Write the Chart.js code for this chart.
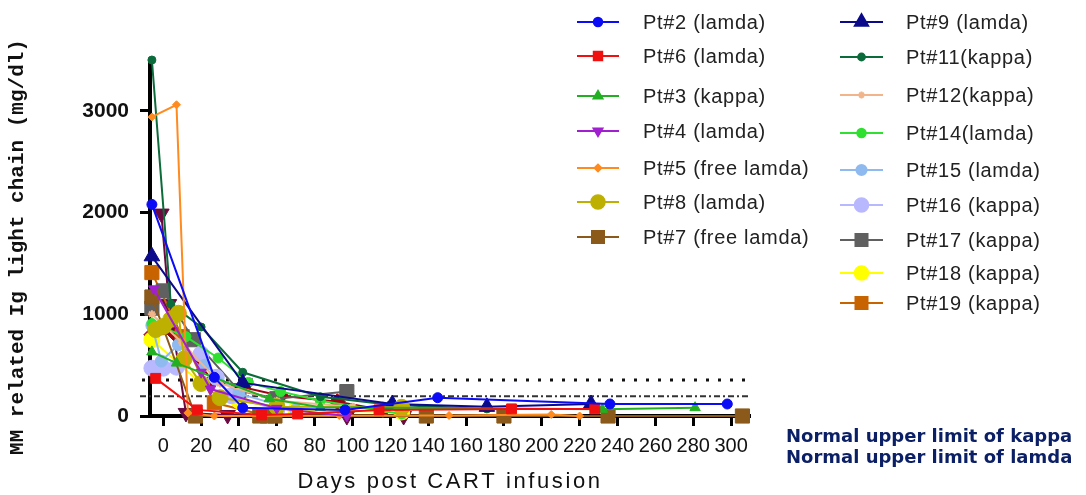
<!DOCTYPE html>
<html>
<head>
<meta charset="utf-8">
<script src="https://cdn.jsdelivr.net/npm/chart.js@4/dist/chart.umd.min.js"></script>
<style>
    html, body { margin: 0; padding: 0; background: #fff; }
    #wrap { width: 1086px; height: 495px; }
</style>
</head>
<body>
<div id="wrap"><canvas id="chart" width="1086" height="495"></canvas></div>
<script>
// values (mg/dl vs days post CART infusion)
const SERIES_NAMES = ['Pt#2 (lamda)', 'Pt#6 (lamda)', 'Pt#3 (kappa)', 'Pt#4 (lamda)', 'Pt#5 (free lamda)',
    'Pt#8 (lamda)', 'Pt#7 (free lamda)', 'Pt#9 (lamda)', 'Pt#11(kappa)', 'Pt#12(kappa)', 'Pt#14(lamda)',
    'Pt#15 (lamda)', 'Pt#16 (kappa)', 'Pt#17 (kappa)', 'Pt#18 (kappa)', 'Pt#19 (kappa)']

const PT2_DAYS = [-6, 27, 42, 96, 145, 236, 298]
const PT2_VALUES = [2080, 380, 80, 60, 180, 118, 118]
const PT6_DAYS = [-4, 18, 52, 71, 114, 184, 228]
const PT6_VALUES = [370, 60, 10, 20, 60, 70, 70]
const PT3_DAYS = [-6, 7, 56, 83, 232, 281]
const PT3_VALUES = [630, 520, 170, 85, 66, 82]
const PT4_DAYS = [-5, 20, 25, 60, 97]
const PT4_VALUES = [1250, 430, 265, 75, 0]
const PT5_DAYS = [-6, 7, 13, 27, 93, 151, 205, 220]
const PT5_VALUES = [2940, 3060, 30, 0, 5, 5, 15, 0]
const PT8_DAYS = [-4, 0, 4, 8, 11, 20, 30, 60, 126]
const PT8_VALUES = [850, 880, 950, 1010, 560, 320, 180, 90, 85]
const PT7_DAYS = [-6, 17, 51, 59, 139, 180, 235, 306]
const PT7_VALUES = [1170, 0, 0, 0, 0, 0, 0, 0]
const PT9_DAYS = [-6, 42, 121, 171, 226]
const PT9_VALUES = [1570, 325, 118, 90, 118]
const PT11_DAYS = [-6, 4, 20, 42, 83, 120, 171]
const PT11_VALUES = [3500, 1100, 875, 430, 190, 110, 70]
const PT12_DAYS = [-6, 10, 30, 60, 100]
const PT12_VALUES = [1000, 720, 320, 150, 90]
const PT14_DAYS = [-6, 12, 29, 45, 62, 83, 126]
const PT14_VALUES = [910, 780, 570, 330, 240, 150, 20]
const PT15_DAYS = [-6, -1, 8, 22, 40, 70]
const PT15_VALUES = [890, 540, 700, 500, 220, 60]
const PT16_DAYS = [-6, 0, 7, 20, 28, 36, 60]
const PT16_VALUES = [470, 470, 480, 610, 380, 200, 60]
const PT17_DAYS = [-6, 0, 16, 40, 60, 97]
const PT17_VALUES = [1060, 1230, 750, 250, 170, 240]
const PT18_DAYS = [-6, 20, 40, 70, 126]
const PT18_VALUES = [750, 320, 150, 60, 40]
const PT19_DAYS = [-6, 10, 27, 55]
const PT19_VALUES = [1410, 780, 130, 0]

// two traces drawn in the figure but missing from its legend
const EXTRA_TRI_DAYS = [-1, 3, 12, 34, 97, 127]
const EXTRA_TRI_VALUES = [1990, 1100, 30, 10, 0, 0]
const EXTRA_DIAMOND_DAYS = [-6, 6, 26, 62, 92, 116]
const EXTRA_DIAMOND_VALUES = [800, 810, 350, 200, 140, 60]

const KAPPA_LIMIT = 355
const LAMDA_LIMIT = 195

const Y_TICKS = [0, 1000, 2000, 3000]

const X_TITLE = 'Days post CART infusion'
const Y_TITLE = 'MM related Ig light chain (mg/dl)'

const SERIES_DAYS = [PT2_DAYS, PT6_DAYS, PT3_DAYS, PT4_DAYS, PT5_DAYS, PT8_DAYS, PT7_DAYS, PT9_DAYS,
    PT11_DAYS, PT12_DAYS, PT14_DAYS, PT15_DAYS, PT16_DAYS, PT17_DAYS, PT18_DAYS, PT19_DAYS]
const SERIES_VALUES = [PT2_VALUES, PT6_VALUES, PT3_VALUES, PT4_VALUES, PT5_VALUES, PT8_VALUES, PT7_VALUES, PT9_VALUES,
    PT11_VALUES, PT12_VALUES, PT14_VALUES, PT15_VALUES, PT16_VALUES, PT17_VALUES, PT18_VALUES, PT19_VALUES]

// look of each trace
const SERIES_STYLE = [
    { color: '#0b0bf5', shape: 'circle', r: 5 },
    { color: '#f01010', shape: 'rect', r: 7 },
    { color: '#22b022', shape: 'triangle', r: 6 },
    { color: '#a020d0', shape: 'triangle', r: 6, rot: 180 },
    { color: '#ff8a1e', shape: 'rectRot', r: 4 },
    { color: '#bdb000', shape: 'circle', r: 8 },
    { color: '#8b5a1a', shape: 'rect', r: 10 },
    { color: '#0a0a8a', shape: 'triangle', r: 9 },
    { color: '#0b6b3a', shape: 'circle', r: 4 },
    { color: '#f2b48a', shape: 'star', r: 4 },
    { color: '#30e030', shape: 'circle', r: 5 },
    { color: '#8fbaf0', shape: 'circle', r: 6 },
    { color: '#b8b8ff', shape: 'circle', r: 8 },
    { color: '#606060', shape: 'rect', r: 10 },
    { color: '#ffff00', shape: 'circle', r: 8 },
    { color: '#c86400', shape: 'rect', r: 10 }
]

// legend slots: [column, row y]
const LEGEND_COLS = [{ x1: 577, x2: 619, text: 643 }, { x1: 840, x2: 883, text: 906 }]
const LEGEND_SLOTS = [[0, 22], [0, 56], [0, 96], [0, 131], [0, 168], [0, 202], [0, 237],
    [1, 22], [1, 57], [1, 95], [1, 133], [1, 170], [1, 205], [1, 240], [1, 273], [1, 303]]

function toPoints(days, values) {
    return days.map((d, i) => ({ x: d, y: values[i] }))
}

function makeDataset(label, days, values, style) {
    return {
        label: label,
        data: toPoints(days, values),
        borderColor: style.color,
        backgroundColor: style.color,
        pointStyle: style.shape,
        pointRadius: style.r,
        pointRotation: style.rot || 0,
        pointBorderWidth: style.shape === 'star' ? 2 : 1,
        borderWidth: 2,
        clip: false
    }
}

const datasets = SERIES_NAMES.map((name, i) => makeDataset(name, SERIES_DAYS[i], SERIES_VALUES[i], SERIES_STYLE[i]))
datasets.push(makeDataset('', EXTRA_TRI_DAYS, EXTRA_TRI_VALUES, { color: '#6a0a40', shape: 'triangle', r: 9, rot: 180 }))
datasets.push(makeDataset('', EXTRA_DIAMOND_DAYS, EXTRA_DIAMOND_VALUES, { color: '#a00010', shape: 'rectRot', r: 8 }))

const limitLines = {
    id: 'limitLines',
    beforeDatasetsDraw(chart) {
        const { ctx, chartArea, scales } = chart
        const y = scales.y
        ctx.save()
        // kappa: dotted
        ctx.strokeStyle = '#111'
        ctx.lineWidth = 3
        ctx.setLineDash([3, 9])
        let py = y.getPixelForValue(KAPPA_LIMIT)
        ctx.beginPath()
        ctx.moveTo(chartArea.left - 8, py)
        ctx.lineTo(chartArea.right, py)
        ctx.stroke()
        // lamda: dash-dot
        ctx.strokeStyle = '#333'
        ctx.lineWidth = 2
        ctx.setLineDash([6, 3, 2, 3])
        py = y.getPixelForValue(LAMDA_LIMIT)
        ctx.beginPath()
        ctx.moveTo(chartArea.left - 10, py)
        ctx.lineTo(chartArea.right, py)
        ctx.stroke()
        ctx.restore()
    }
}

const sideLegend = {
    id: 'sideLegend',
    afterDraw(chart) {
        const { ctx, chartArea } = chart
        ctx.save()
        SERIES_NAMES.forEach((name, i) => {
            const [col, y] = LEGEND_SLOTS[i]
            const c = LEGEND_COLS[col]
            const st = SERIES_STYLE[i]
            ctx.strokeStyle = st.color
            ctx.fillStyle = st.color
            ctx.lineWidth = 2
            ctx.setLineDash([])
            ctx.beginPath()
            ctx.moveTo(c.x1, y)
            ctx.lineTo(c.x2, y)
            ctx.stroke()
            const opts = { pointStyle: st.shape, radius: st.r * 0.85, rotation: st.rot || 0, borderWidth: st.shape === 'star' ? 2 : 1 }
            if (Chart.helpers && Chart.helpers.drawPoint) {
                Chart.helpers.drawPoint(ctx, opts, (c.x1 + c.x2) / 2, y)
            } else {
                ctx.beginPath()
                ctx.arc((c.x1 + c.x2) / 2, y, opts.radius, 0, Math.PI * 2)
                ctx.fill()
            }
            ctx.fillStyle = '#222'
            ctx.font = '20px "Liberation Sans", Arial, sans-serif'
            ctx.letterSpacing = '0.7px'
            ctx.textAlign = 'left'
            ctx.textBaseline = 'middle'
            ctx.fillText(name, c.text, y + 1)
            ctx.letterSpacing = '0px'
        })

        // notes for the two reference lines
        ctx.fillStyle = '#0b1f66'
        ctx.font = 'bold 18px "DejaVu Sans", sans-serif'
        ctx.textAlign = 'left'
        ctx.textBaseline = 'middle'
        ctx.fillText('Normal upper limit of kappa', 786, 437)
        ctx.fillText('Normal upper limit of lamda', 786, 458)

        // axis titles
        ctx.fillStyle = '#111'
        ctx.font = '22px "Liberation Sans", Arial, sans-serif'
        ctx.letterSpacing = '2.6px'
        ctx.textAlign = 'center'
        ctx.fillText(X_TITLE, (chartArea.left + chartArea.right) / 2, 482)
        ctx.letterSpacing = '0px'

        ctx.translate(18, 247)
        ctx.rotate(-Math.PI / 2)
        ctx.font = 'bold 21px "Liberation Mono", "DejaVu Sans Mono", monospace'
        ctx.fillText(Y_TITLE, 0, 0)
        ctx.restore()
    }
}

new Chart(document.getElementById('chart'), {
    type: 'line',
    data: { datasets: datasets },
    options: {
        responsive: false,
        animation: false,
        devicePixelRatio: 1,
        layout: { padding: { left: 0, top: 60, right: 336, bottom: 0 } },
        plugins: { legend: { display: false }, tooltip: { enabled: false } },
        elements: { line: { tension: 0 } },
        scales: {
            x: {
                type: 'linear',
                min: -7,
                max: 310,
                afterFit: s => { s.height = 79 },
                border: { color: '#000', width: 4 },
                grid: { drawOnChartArea: false, color: '#000', tickLength: 10, tickWidth: 3 },
                ticks: {
                    stepSize: 20, includeBounds: false, autoSkip: false, maxRotation: 0,
                    color: '#111', padding: 8,
                    font: { family: '"Liberation Sans", Arial, sans-serif', size: 20 }
                }
            },
            y: {
                min: 0,
                max: 3500,
                afterFit: s => { s.width = 150 },
                afterBuildTicks: s => { s.ticks = Y_TICKS.map(v => ({ value: v })) },
                border: { color: '#000', width: 4 },
                grid: { drawOnChartArea: false, color: '#000', tickLength: 10, tickWidth: 3 },
                ticks: {
                    color: '#111', padding: 11,
                    callback: v => String(v),
                    font: { family: '"Liberation Sans", Arial, sans-serif', size: 21, weight: 'bold' }
                }
            }
        }
    },
    plugins: [limitLines, sideLegend]
})
</script>
</body>
</html>
